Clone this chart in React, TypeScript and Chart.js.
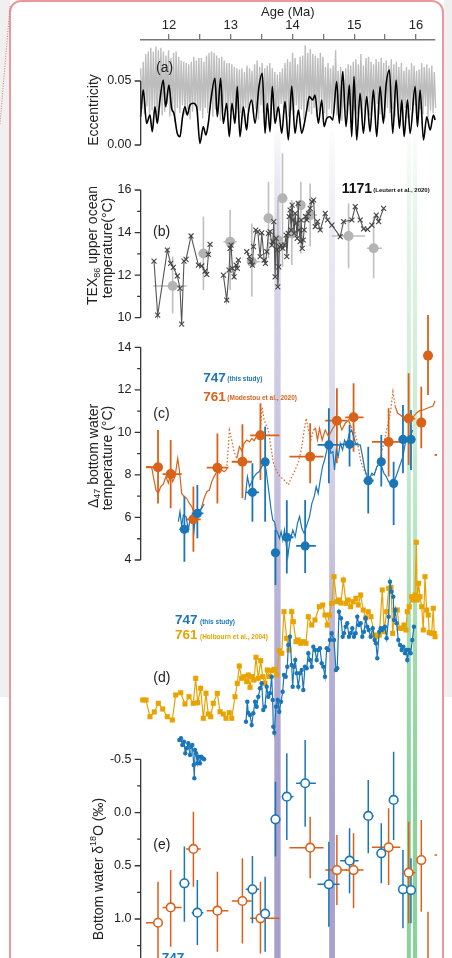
import React, { useEffect, useRef } from "react";
import { Chart, registerables } from "chart.js";
Chart.register(...registerables);

const FONT = 'Helvetica, Arial, "Liberation Sans", sans-serif';
Chart.defaults.font.family = FONT;
Chart.defaults.color = "#222";

const BLUE = "#1b76b8";
const ORANGE = "#d9621b";
const YELLOW = "#e8a300";

// ---------- x axis ----------
const X_MIN = 11.541;
const X_MAX = 16.308;
const X_TICKS = [12, 12.5, 13, 13.5, 14, 14.5, 15, 15.5, 16];

// ---------- (a) eccentricity ----------
const OBL_START = 11.541;
const OBL_STEP = 0.0205;
const OBL_PEAKS = [
  0.06, 0.065, 0.071, 0.073, 0.076, 0.073, 0.077, 0.074, 0.076, 0.073,
  0.07, 0.074, 0.068, 0.072, 0.073, 0.069, 0.066, 0.065, 0.064, 0.063,
  0.065, 0.069, 0.066, 0.068, 0.068, 0.065, 0.07, 0.072, 0.073, 0.072,
  0.07, 0.068, 0.069, 0.066, 0.064, 0.064, 0.063, 0.061, 0.06, 0.059,
  0.06, 0.057, 0.062, 0.06, 0.058, 0.063, 0.066, 0.061, 0.064, 0.06,
  0.062, 0.064, 0.06, 0.057, 0.055, 0.057, 0.06, 0.064, 0.067, 0.065,
  0.072, 0.068, 0.063, 0.069, 0.07, 0.078, 0.072, 0.075, 0.071, 0.07,
  0.068, 0.072, 0.069, 0.061, 0.064, 0.06, 0.062, 0.074, 0.058, 0.061,
  0.058, 0.06, 0.063, 0.062, 0.065, 0.067, 0.063, 0.071, 0.062, 0.068,
  0.069, 0.065, 0.063, 0.067, 0.065, 0.068, 0.064, 0.066, 0.062, 0.067,
  0.063, 0.065, 0.061, 0.064, 0.058, 0.061, 0.059, 0.064, 0.062, 0.058,
  0.059, 0.064, 0.061, 0.063, 0.06, 0.062, 0.057,
];
const OBL_TROUGHS = [
  0.028, 0.024, 0.03, 0.021, 0.027, 0.025, 0.019, 0.029, 0.023, 0.026,
  0.032, 0.022, 0.027, 0.018, 0.029, 0.025, 0.031, 0.024, 0.028, 0.02,
  0.026, 0.03, 0.023, 0.027, 0.021, 0.029, 0.025, 0.032, 0.022, 0.028,
  0.024, 0.019, 0.027, 0.031, 0.023, 0.026, 0.03, 0.021, 0.028, 0.025,
  0.022, 0.029, 0.026, 0.033, 0.024, 0.028, 0.02, 0.031, 0.025, 0.027,
  0.03, 0.023, 0.028, 0.021, 0.026, 0.032, 0.024, 0.029, 0.022, 0.027,
  0.025, 0.031, 0.023, 0.028, 0.02, 0.03, 0.026, 0.024, 0.029, 0.022,
  0.027, 0.033, 0.025, 0.021, 0.028, 0.024, 0.03, 0.023, 0.026, 0.019,
  0.028, 0.025, 0.031, 0.022, 0.027, 0.024, 0.029, 0.021, 0.026, 0.03,
  0.023, 0.028, 0.025, 0.032, 0.024, 0.027, 0.021, 0.029, 0.025, 0.028,
  0.022, 0.03, 0.026, 0.024, 0.029, 0.021, 0.027, 0.025, 0.031, 0.023,
  0.028, 0.024, 0.03, 0.022, 0.027, 0.025, 0.029,
];
const ECC_AGE = [
  11.54, 11.583, 11.637, 11.691, 11.729, 11.772, 11.81, 11.853, 11.907, 11.945,
  11.999, 12.042, 12.08, 12.134, 12.177, 12.22, 12.258, 12.296, 12.339, 12.393,
  12.447, 12.501, 12.555, 12.598, 12.636, 12.679, 12.744, 12.782, 12.836, 12.879,
  12.933, 12.976, 13.02, 13.068, 13.106, 13.149, 13.203, 13.257, 13.284, 13.338,
  13.393, 13.457, 13.511, 13.555, 13.592, 13.636, 13.673, 13.717, 13.771, 13.825,
  13.879, 13.933, 13.987, 14.041, 14.095, 14.149, 14.187, 14.23, 14.273, 14.327,
  14.365, 14.419, 14.473, 14.511, 14.554, 14.608, 14.651, 14.716, 14.759, 14.813,
  14.867, 14.921, 14.959, 14.997, 15.04, 15.094, 15.148, 15.202, 15.256, 15.31,
  15.364, 15.418, 15.472, 15.516, 15.57, 15.624, 15.678, 15.732, 15.77, 15.808,
  15.862, 15.905, 15.986, 16.024, 16.067, 16.121, 16.175, 16.229, 16.283, 16.31,
];
const ECC_VAL = [
  0.0221, 0.043, 0.0169, 0.0234, 0.0104, 0.0299, 0.0169, 0.0352, 0.0508, 0.0299,
  0.0469, 0.0286, 0.0247, 0.0091, 0.0065, 0.0221, 0.0299, 0.0234, 0.0313, 0.0326,
  0.0299, 0.0013, 0.0143, 0.0078, 0.0169, 0.0352, 0.0521, 0.0221, 0.0521, 0.0169,
  0.0326, 0.0065, 0.0326, 0.0169, 0.0456, 0.0065, 0.0299, 0.0117, 0.0247, 0.0352,
  0.0169, 0.0456, 0.056, 0.0091, 0.0326, 0.0104, 0.0456, 0.0169, 0.0299, 0.0091,
  0.0339, 0.0039, 0.0461, 0.0091, 0.0273, 0.0091, 0.0156, 0.0273, 0.0378, 0.0352,
  0.0391, 0.0169, 0.0352, 0.0143, 0.0208, 0.0221, 0.0195, 0.0495, 0.0169, 0.0573,
  0.0143, 0.0469, 0.0065, 0.0534, 0.0039, 0.0404, 0.0091, 0.0378, 0.0104, 0.043,
  0.0065, 0.0456, 0.0169, 0.0469, 0.0586, 0.0091, 0.0508, 0.013, 0.0352, 0.0065,
  0.0352, 0.0091, 0.0456, 0.0143, 0.043, 0.0039, 0.0221, 0.0117, 0.0234, 0.0195,
];

// ---------- (b) TEX86 ----------
const TEX_AGE = [
  11.757, 11.816, 11.973, 12.027, 12.07, 12.135, 12.178, 12.205, 12.243, 12.276,
  12.357, 12.476, 12.53, 12.584, 12.611, 12.638, 12.665, 12.77, 12.881, 12.935,
  12.973, 12.989, 13.005, 13.027, 13.054, 13.086, 13.108, 13.124, 13.19, 13.259,
  13.303, 13.324, 13.351, 13.368, 13.405, 13.438, 13.476, 13.503, 13.541, 13.562,
  13.584, 13.611, 13.638, 13.665, 13.681, 13.697, 13.719, 13.735, 13.751, 13.762,
  13.778, 13.789, 13.816, 13.843, 13.87, 13.897, 13.908, 13.93, 13.946, 13.962,
  13.978, 13.995, 14.011, 14.027, 14.043, 14.059, 14.076, 14.092, 14.108, 14.124,
  14.141, 14.157, 14.173, 14.189, 14.211, 14.232, 14.259, 14.286, 14.314, 14.341,
  14.368, 14.405, 14.449, 14.53, 14.568, 14.638, 14.773, 14.827, 14.962, 15.016,
  15.097, 15.151, 15.216, 15.286, 15.357, 15.395, 15.476,
];
const TEX_T = [
  12.66, 10.12, 13.18, 12.55, 12.36, 11.96, 11.38, 9.7, 12.66, 12.74,
  13.84, 12.47, 12.43, 12.19, 12.03, 12.97, 13.45, null, 12.0, 10.83,
  12.24, 13.26, 13.41, 12.32, 11.92, 12.47, 12.32, 12.71, null, 13.1,
  12.87, 12.63, 12.47, 13.34, 14.12, 14.04, 12.87, 13.99, 12.71, 12.55,
  13.1, 13.96, 14.04, 13.41, 13.57, 14.51, 11.92, 13.73, 13.18, 11.45,
  12.39, 13.34, 13.41, 13.26, 13.41, 13.88, 12.87, 13.96, 14.75, 15.06,
  14.12, 15.29, 14.59, 13.96, 14.9, 14.43, 13.73, 15.37, 14.12, 13.57,
  14.59, 13.26, 13.65, 14.12, 14.75, 14.59, 14.9, 15.14, 15.45, 15.53,
  14.28, 14.51, 14.12, 14.9, 14.59, 14.35, 13.81, 14.51, 14.59, 15.22,
  14.59, 14.17, 14.15, 14.35, 14.82, 14.51, 15.14,
];
const TEXG_AGE = [12.059, 12.557, 12.989, 13.341, 13.611, 13.762, 13.838, 13.989, 14.135, 14.286, 14.908, 15.314];
const TEXG_AGE_LO = [11.746, 12.476, 12.881, 13.259, 13.611, 13.762, 13.838, 13.989, 14.135, 14.178, 14.638, 15.205];
const TEXG_AGE_HI = [12.286, 12.665, 13.097, 13.476, 13.611, 13.762, 13.838, 13.989, 14.135, 14.395, 15.178, 15.449];
const TEXG_T = [11.49, 13.02, 13.57, 12.63, 14.67, 13.65, 15.61, 13.96, 15.29, 14.82, 13.84, 13.26];
const TEXG_T_LO = [10.2, 11.3, 11.3, 10.98, 12.79, 11.61, 12.39, 12.47, 13.02, 13.34, 12.32, 11.85];
const TEXG_T_HI = [12.87, 14.75, 15.06, 14.43, 16.39, 15.53, 17.72, 15.53, 16.39, 16.31, 15.37, 14.75];

// ---------- (c) & (e) clumped isotope samples ----------
const S747_AGE = [12.249, 12.459, 13.351, 13.557, 13.724, 13.908, 14.205, 14.589, 14.924, 15.227, 15.438, 15.638, 15.789, 15.919];
const S747_AGE_LO = [12.168, 12.368, 13.243, 13.557, 13.665, 13.827, 14.059, 14.405, 14.773, 15.151, 15.395, 15.584, 15.719, 15.854];
const S747_AGE_HI = [12.33, 12.557, 13.459, 13.557, 13.8, 14.016, 14.378, 14.762, 15.07, 15.314, 15.486, 15.692, 15.881, 15.989];
const C747_T = [5.44, 6.19, 7.18, 8.61, 4.34, 5.07, 4.66, 9.41, 9.44, 7.73, 8.62, 7.6, 9.67, 9.67];
const C747_T_LO = [3.92, 5.02, 5.8, 5.8, 2.82, 3.37, 3.39, 7.61, 8.39, 6.19, 7.45, 5.65, 8.08, 8.23];
const C747_T_HI = [7.02, 7.53, 8.55, 10.27, 5.41, 6.81, 6.82, 11.13, 10.35, 9.33, 9.88, 8.62, 11.29, 11.05];
const E747 = [0.665, 0.941, 0.721, 0.95, 0.064, -0.149, -0.275, 0.674, 0.452, 0.032, 0.383, -0.118, 0.721, 0.728];
const E747_LO = [0.32, 0.634, 0.408, 0.602, -0.29, -0.556, -0.682, 0.274, 0.148, -0.306, 0.101, -0.572, 0.352, 0.43];
const E747_HI = [1.025, 1.244, 1.041, 1.307, 0.414, 0.258, 0.133, 1.072, 0.759, 0.383, 0.665, 0.258, 1.088, 1.041];

const S761_AGE = [11.822, 12.027, 12.395, 12.784, 13.189, 13.481, 14.286, 14.719, 14.989, 15.557, 15.881, 16.086, 16.195];
const S761_AGE_LO = [11.627, 11.897, 12.276, 12.611, 13.016, 13.314, 13.951, 14.53, 14.854, 15.286, 15.827, 16.086, 16.195];
const S761_AGE_HI = [11.881, 12.205, 12.514, 12.962, 13.341, 13.789, 14.503, 14.881, 15.151, 15.746, 15.989, 16.086, 16.195];
const C761_T = [8.36, 8.04, 5.91, 8.34, 8.62, 9.86, 8.86, 10.55, 10.71, 9.55, 10.65, 10.46, 13.61];
const C761_T_LO = [6.66, 6.43, 4.39, 6.66, 6.9, 7.76, 7.61, 8.55, 9.09, 7.92, 8.47, 9.25, 11.76];
const C761_T_HI = [10.11, 9.64, 7.45, 9.95, 10.38, 11.37, 10.43, 12.07, 12.31, 11.13, 12.78, 12.15, 15.52];
const E761 = [1.035, 0.891, 0.342, 0.922, 0.831, 0.994, 0.33, 0.54, 0.54, 0.327, 0.565, 0.446, 1.338];
const E761_LO = [0.649, 0.54, -0.008, 0.555, 0.43, 0.649, 0.039, 0.211, 0.195, -0.04, 0.086, 0.07, 0.931];
const E761_HI = [1.37, 1.26, 0.696, 1.307, 1.229, 1.323, 0.618, 0.869, 0.9, 0.681, 1.041, 0.931, 1.5];
// sample just beyond the right edge (only its age bar shows)
const S761_OFF_AGE = [16.42];
const S761_OFF_LO = [16.3];
const S761_OFF_HI = [16.55];
const C761_OFF_T = [8.94];
const E761_OFF = [0.399];

// ---------- (c) bottom water temperature records (lines) ----------
const C761_LINE_AGE = [
  11.638, 11.719, 11.757, 11.789, 11.827, 11.865, 11.908, 11.951, 11.989, 12.027,
  12.059, 12.097, 12.141, 12.168, 12.205, 12.243, 12.286, 12.33, 12.368, 12.405,
  12.449, 12.492, 12.53, 12.568, 12.611, 12.654, 12.692, 12.73, 12.773, 12.816,
  12.854, 12.892, 12.935, 12.978, 13.016, 13.054, 13.097, 13.141, 13.178, 13.216,
  13.259, 13.303, 13.341, 13.378, 13.422, 13.465, 13.508, 13.541, 13.573, 13.611,
  13.649, 13.692, 13.746, 13.8, 13.865, 13.935, 13.989, 14.043, 14.097, 14.151,
  14.189, 14.222, 14.259, 14.297, 14.341, 14.373, 14.405, 14.438, 14.481, 14.53,
  14.584, 14.638, 14.692, 14.746, 14.8, 14.854, 14.908, 14.946, 15.0, 15.054,
  15.108, 15.178, 15.249, 15.324, 15.395, 15.465, 15.53, 15.584, 15.627, 15.665,
  15.703, 15.746, 15.789, 15.843, 15.897, 15.951, 16.005, 16.059, 16.114, 16.168,
  16.222, 16.276, 16.308,
];
const C761_LINE_T = [
  8.39, 8.36, 7.76, 7.29, 7.13, 7.45, 7.57, 7.92, 7.61, 8.08,
  7.68, 7.92, 8.78, 8.23, 7.13, 6.98, 6.9, 6.66, 6.51, 6.23,
  5.96, 6.12, 6.51, 6.9, 7.21, 7.29, 7.68, 7.92, 8.15, 8.08,
  8.23, 8.15, 8.26, 10.11, 9.64, 9.09, 8.78, 9.33, 9.14, 9.49,
  9.64, 9.56, 9.72, 9.61, 9.83, 9.72, 11.18, 10.58, 10.35, 10.11,
  9.33, 8.55, 8.15, 7.92, 7.76, 7.53, 7.92, 8.23, 8.62, 9.33,
  10.11, 10.66, 10.11, 9.64, 10.11, 10.19, 9.64, 10.19, 9.64, 10.11,
  9.8, 10.11, 10.35, 10.58, 10.11, 10.43, 10.58, 10.27, 10.11, 9.49,
  8.62, 8.08, 7.84, 8.08, 8.55, 9.33, 10.19, 10.9, 11.92, 11.21,
  10.9, 10.82, 10.71, 10.61, 10.82, 10.71, 10.9, 11.02, 11.05, 11.12,
  11.18, 11.24, 11.49,
];
const C761_DOTTED_SPANS = [
  [12.935, 13.097],
  [13.465, 14.341],
  [14.946, 15.665],
];
const C747_LINE_AGE = [
  12.151, 12.178, 12.205, 12.232, 12.276, 12.314, 12.341, 12.378, 12.405, 12.432,
  12.465, 12.492, 12.53, 12.568, 12.9,
  13.232, 13.27, 13.303, 13.341, 13.378, 13.422, 13.459, 13.503, 13.541, 13.573,
  13.6, 13.627, 13.654, 13.681, 13.708, 13.735, 13.762, 13.789, 13.816, 13.843,
  13.87, 13.897, 13.924, 13.951, 13.978, 14.005, 14.043, 14.081, 14.114, 14.151,
  14.189, 14.232, 14.276, 14.314, 14.351, 14.384, 14.416, 14.449, 14.486, 14.519,
  14.557, 14.589, 14.622, 14.654, 14.681, 14.708, 14.741, 14.773, 14.811, 14.843,
  14.881, 14.919, 14.957, 14.989, 15.022, 15.059, 15.097, 15.135, 15.173, 15.211,
  15.249, 15.286, 15.324, 15.368, 15.405, 15.443, 15.481, 15.519, 15.557, 15.595,
  15.638, 15.676, 15.714, 15.751, 15.789, 15.827, 15.865, 15.908, 15.946,
];
const C747_LINE_T = [
  5.8, 6.27, 5.57, 6.12, 6.04, 5.41, 5.96, 6.12, 5.41, 6.27,
  6.04, 6.35, 6.43, 6.63, null,
  6.82, 7.92, 7.45, 7.68, 7.92, 8.08, 8.15, 8.39, 8.55, 8.23,
  7.61, 6.98, 6.35, 5.88, 5.8, 5.41, 5.25, 5.02, 5.33, 4.94,
  5.41, 4.78, 4.16, 4.78, 5.1, 5.41, 5.1, 5.72, 6.04, 5.49,
  5.25, 5.65, 6.04, 6.66, 6.98, 7.45, 7.13, 7.76, 8.39, 8.7,
  9.17, 9.49, 9.02, 9.09, 8.23, 9.17, 8.86, 9.49, 9.17, 9.64,
  9.41, 9.96, 10.11, 9.8, 9.49, 9.41, 9.41, 8.86, 8.23, 7.92,
  7.84, 8.08, 8.0, 8.39, 8.55, 8.39, 8.08, 7.92, 7.68, 7.61,
  7.68, 7.92, 8.23, 8.55, 8.86, 9.49, 9.64, 9.8, 10.11,
];

// ---------- (d) benthic d18O ----------
const D761_AGE = [
  11.574, 11.627, 11.692, 11.762, 11.827, 11.898, 11.972, 12.053, 12.108, 12.189,
  12.259, 12.324, 12.393, 12.432, 12.465, 12.513, 12.555, 12.599, 12.636, 12.675,
  12.717, 12.782, 12.826, 12.879, 12.923, 12.976, 13.015, 13.069, 13.106, 13.138,
  13.177, 13.214, 13.258, 13.284, 13.312, 13.339, 13.376, 13.409, 13.446, 13.485,
  13.517, 13.554, 13.592, 13.624, 13.663, 13.7, 13.744, 13.786, 13.825, 13.862,
  13.906, 13.943, 13.987, 14.013, 14.057, 14.094, 14.133, 14.175, 14.218, 14.256,
  14.311, 14.364, 14.434, 14.489, 14.526, 14.563, 14.596, 14.635, 14.672, 14.716,
  14.753, 14.785, 14.823, 14.866, 14.903, 14.942, 14.984, 15.028, 15.065, 15.104,
  15.146, 15.185, 15.227, 15.271, 15.325, 15.363, 15.406, 15.454, 15.486, 15.525,
  15.558, 15.595, 15.623, 15.66, 15.697, 15.729, 15.768, 15.806, 15.838, 15.859,
  15.891, 15.93, 15.956, 15.984, 16.005, 16.021, 16.044, 16.065, 16.092, 16.118,
  16.146, 16.173, 16.199, 16.215, 16.254, 16.28, 16.296, 16.308,
];
const D761_D18O = [
  2.4, 2.4, 2.567, 2.52, 2.433, 2.49, 2.567, 2.6, 2.35, 2.327,
  2.44, 2.367, 2.433, 2.183, 2.427, 2.283, 2.583, 2.333, 2.54, 2.567,
  2.433, 2.333, 2.517, 2.54, 2.583, 2.527, 2.583, 2.367, 2.233, 2.06,
  2.183, 2.167, 2.217, 2.15, 2.273, 2.167, 2.2, 1.973, 2.183, 2.007,
  2.167, 2.233, 2.1, 2.167, 2.107, 2.093, 2.15, 1.907, 1.933, 1.517,
  1.783, 1.9, 1.517, 1.617, 1.817, 1.8, 1.833, 1.817, 1.833, 1.567,
  1.65, 1.6, 1.467, 1.45, 1.55, 1.65, 1.55, 1.433, 1.167, 1.417,
  1.4, 1.43, 1.2, 1.433, 1.4, 1.467, 1.417, 1.383, 1.45, 1.35,
  1.5, 1.58, 1.517, 1.567, 1.75, 1.767, 1.75, 1.3, 1.717, 1.517,
  1.283, 1.273, 1.733, 1.5, 1.5, 1.683, 1.683, 1.65, 1.7, 1.517,
  1.467, 1.367, 1.4, 1.35, 0.823, 1.4, 1.233, 1.367, 1.467, 1.7,
  1.167, 1.5, 1.55, 1.727, 1.733, 1.483, 1.733, 1.767,
];
const D747_AGE = [
  12.167, 12.194, 12.215, 12.243, 12.264, 12.286, 12.312, 12.34, 12.356, 12.377,
  12.4, 12.41, 12.421, 12.437, 12.458, 12.474, 12.502, 12.523, 12.546, 12.567,
  12.9,
  13.247, 13.268, 13.284, 13.312, 13.339, 13.365, 13.393, 13.42, 13.446, 13.474,
  13.501, 13.527, 13.554, 13.582, 13.608, 13.635, 13.663, 13.679, 13.689, 13.705,
  13.733, 13.76, 13.786, 13.814, 13.841, 13.862, 13.89, 13.916, 13.932, 13.959,
  13.987, 14.003, 14.024, 14.045, 14.068, 14.094, 14.121, 14.149, 14.175, 14.202,
  14.23, 14.256, 14.283, 14.311, 14.337, 14.364, 14.392, 14.418, 14.445, 14.473,
  14.499, 14.526, 14.554, 14.58, 14.607, 14.635, 14.672, 14.704, 14.725, 14.753,
  14.785, 14.813, 14.834, 14.861, 14.887, 14.915, 14.942, 14.968, 14.996, 15.023,
  15.049, 15.077, 15.104, 15.13, 15.158, 15.185, 15.211, 15.234, 15.266, 15.299,
  15.331, 15.352, 15.373, 15.406, 15.428, 15.449, 15.47, 15.498, 15.525, 15.558,
  15.579, 15.606, 15.632, 15.644, 15.665, 15.687, 15.713, 15.741, 15.768, 15.794,
  15.822, 15.843, 15.859, 15.886, 15.914, 15.94, 15.967,
];
const D747_D18O = [
  2.8, 2.783, 2.85, 2.817, 2.933, 2.883, 2.833, 2.95, 2.867, 2.85,
  3.05, 3.183, 2.9, 2.933, 3.033, 2.967, 3.033, 2.967, 2.983, 2.993,
  null,
  2.617, 2.417, 2.53, 2.55, 2.65, 2.533, 2.417, 2.467, 2.367, 2.283,
  2.233, 2.5, 2.467, 2.267, 2.367, 2.333, 2.167, 2.4, 2.667, 2.727,
  2.467, 2.4, 2.517, 2.417, 2.317, 2.15, 2.167, 2.067, 1.85, 1.767,
  2.05, 2.267, 2.067, 2.0, 2.133, 2.267, 2.133, 2.1, 2.3, 2.067,
  2.083, 1.933, 2.0, 2.067, 1.867, 1.9, 2.0, 1.9, 1.883, 2.033,
  2.067, 2.167, 1.883, 1.9, 1.8, 1.733, 1.8, 2.1, 2.083, 1.517,
  1.583, 1.767, 1.733, 1.667, 1.633, 1.767, 1.733, 1.683, 1.767, 1.733,
  1.567, 1.65, 1.633, 1.767, 1.717, 1.583, 1.667, 1.7, 1.767, 1.683,
  1.8, 1.833, 1.983, 1.717, 1.683, 1.7, 1.683, 1.667, 1.783, 1.567,
  1.217, 1.317, 1.367, 1.6, 1.5, 1.633, 1.8, 1.85, 1.9, 1.867,
  1.933, 1.9, 2.0, 1.9, 1.933, 1.8, 1.667,
];

// ---------- event bands ----------
const PURPLE_BANDS = [
  [13.705, 13.808],
  [14.593, 14.688],
];
const GREEN_BANDS = [
  [15.852, 15.917],
  [15.95, 16.018],
];

// ---------- layout of stacked panels (pixel anchors) ----------
const TOP = 40;
const BOTTOM = 948;
function rangeFor(v0: number, y0: number, k: number, reverse: boolean) {
  if (!reverse) return { min: v0 - (BOTTOM - y0) / k, max: v0 + (y0 - TOP) / k, reverse: false };
  return { min: v0 - (y0 - TOP) / k, max: v0 + (BOTTOM - y0) / k, reverse: true };
}
const RA = rangeFor(0, 145, 1280, false);
const RB = rangeFor(16, 190, 21.28, false);
const RC = rangeFor(14, 347.3, 21.27, false);
const RD = rangeFor(1, 560, 100, true);
const RE = rangeFor(-0.5, 759.3, 106.47, true);
const LABEL_X = 11.392;

const pts = (xs: number[], ys: (number | null)[]) => xs.map((x, i) => ({ x, y: ys[i] === undefined ? null : ys[i] }));

function eccGrayData() {
  const out: any[] = [];
  for (let i = 0; i < OBL_PEAKS.length; i++) {
    out.push({ x: OBL_START + 2 * i * OBL_STEP, y: OBL_PEAKS[i] });
    if (i < OBL_TROUGHS.length) out.push({ x: OBL_START + (2 * i + 1) * OBL_STEP, y: OBL_TROUGHS[i] });
  }
  return out;
}

const ERROR_GROUPS = [
  { axis: "yb", color: "#bfbfbf", width: 1.6, x: TEXG_AGE, xlo: TEXG_AGE_LO, xhi: TEXG_AGE_HI, y: TEXG_T, ylo: TEXG_T_LO, yhi: TEXG_T_HI },
  { axis: "yc", color: ORANGE, width: 1.8, x: S761_AGE, xlo: S761_AGE_LO, xhi: S761_AGE_HI, y: C761_T, ylo: C761_T_LO, yhi: C761_T_HI },
  { axis: "yc", color: ORANGE, width: 1.8, x: S761_OFF_AGE, xlo: S761_OFF_LO, xhi: S761_OFF_HI, y: C761_OFF_T, ylo: C761_OFF_T, yhi: C761_OFF_T },
  { axis: "yc", color: BLUE, width: 1.8, x: S747_AGE, xlo: S747_AGE_LO, xhi: S747_AGE_HI, y: C747_T, ylo: C747_T_LO, yhi: C747_T_HI },
  { axis: "ye", color: ORANGE, width: 1.5, x: S761_AGE, xlo: S761_AGE_LO, xhi: S761_AGE_HI, y: E761, ylo: E761_LO, yhi: E761_HI },
  { axis: "ye", color: ORANGE, width: 1.5, x: S761_OFF_AGE, xlo: S761_OFF_LO, xhi: S761_OFF_HI, y: E761_OFF, ylo: E761_OFF, yhi: E761_OFF },
  { axis: "ye", color: BLUE, width: 1.5, x: S747_AGE, xlo: S747_AGE_LO, xhi: S747_AGE_HI, y: E747, ylo: E747_LO, yhi: E747_HI },
];

const AXES = [
  { id: "ya", from: 0.05, to: 0, major: [0, 0.05], minor: [] as number[] },
  { id: "yb", from: 16, to: 10, major: [10, 12, 14, 16], minor: [11, 13, 15] },
  { id: "yc", from: 14, to: 4, major: [4, 6, 8, 10, 12, 14], minor: [5, 7, 9, 11, 13] },
  { id: "ye", from: -0.5, to: 1.6, major: [-0.5, 0, 0.5, 1], minor: [-0.25, 0.25, 0.75, 1.25] },
];

const bandsPlugin = {
  id: "bands",
  beforeDatasetsDraw(chart: any) {
    const { ctx, scales } = chart;
    const xs = scales.x;
    const H = chart.height;
    const y0 = 120;
    const grad = (rgb: string, stops: number[][]) => {
      const g = ctx.createLinearGradient(0, y0, 0, H);
      stops.forEach(([y, a]) => g.addColorStop(Math.min(1, Math.max(0, (y - y0) / (H - y0))), `rgba(${rgb},${a})`));
      return g;
    };
    const p1 = grad("160,152,200", [[125, 0], [145, 0.1], [230, 0.37], [450, 0.58], [650, 0.8], [800, 0.92], [958, 0.92]]);
    const p2 = grad("160,152,200", [[125, 0], [145, 0.05], [230, 0.2], [450, 0.42], [650, 0.75], [800, 0.9], [958, 0.9]]);
    const gr = grad("110,200,130", [[125, 0], [145, 0.05], [230, 0.2], [450, 0.38], [650, 0.65], [800, 0.8], [958, 0.82]]);
    ctx.save();
    PURPLE_BANDS.forEach(([a, b], i) => {
      const xa = xs.getPixelForValue(a);
      const xb = xs.getPixelForValue(b);
      ctx.fillStyle = i === 0 ? p1 : p2;
      ctx.fillRect(xa, y0, xb - xa, H - y0);
    });
    GREEN_BANDS.forEach(([a, b]) => {
      const xa = xs.getPixelForValue(a);
      const xb = xs.getPixelForValue(b);
      ctx.fillStyle = gr;
      ctx.fillRect(xa, y0, xb - xa, H - y0);
    });
    ctx.restore();
  },
};

const errorBarsPlugin = {
  id: "errorBars",
  beforeDatasetsDraw(chart: any) {
    const { ctx, scales } = chart;
    const xs = scales.x;
    ctx.save();
    ctx.beginPath();
    ctx.rect(0, 0, xs.right + 2, chart.height);
    ctx.clip();
    ERROR_GROUPS.forEach((g) => {
      const ys = scales[g.axis];
      ctx.strokeStyle = g.color;
      ctx.lineWidth = g.width;
      g.x.forEach((age: number, i: number) => {
        const px = xs.getPixelForValue(age);
        const py = ys.getPixelForValue(g.y[i]);
        ctx.beginPath();
        ctx.moveTo(px, ys.getPixelForValue(g.ylo[i]));
        ctx.lineTo(px, ys.getPixelForValue(g.yhi[i]));
        ctx.moveTo(xs.getPixelForValue(g.xlo[i]), py);
        ctx.lineTo(xs.getPixelForValue(g.xhi[i]), py);
        ctx.stroke();
      });
    });
    ctx.restore();
  },
};

const axesPlugin = {
  id: "panelAxes",
  afterDatasetsDraw(chart: any) {
    const { ctx, scales, chartArea } = chart;
    const ax = chartArea.left;
    ctx.save();
    ctx.strokeStyle = "#333";
    ctx.lineWidth = 1.3;
    AXES.forEach((a) => {
      const s = scales[a.id];
      ctx.beginPath();
      ctx.moveTo(ax, s.getPixelForValue(a.from));
      ctx.lineTo(ax, s.getPixelForValue(a.to));
      a.major.forEach((v) => {
        const y = s.getPixelForValue(v);
        ctx.moveTo(ax - 6, y);
        ctx.lineTo(ax, y);
      });
      a.minor.forEach((v) => {
        const y = s.getPixelForValue(v);
        ctx.moveTo(ax - 3.5, y);
        ctx.lineTo(ax, y);
      });
      ctx.stroke();
    });
    ctx.restore();
  },
};

type Part = { t: string; font: string; color: string; dy?: number };
function drawRich(ctx: any, parts: Part[], x: number, y: number, rotate: boolean, center: boolean) {
  ctx.save();
  ctx.translate(x, y);
  if (rotate) ctx.rotate(-Math.PI / 2);
  ctx.textBaseline = rotate ? "middle" : "alphabetic";
  ctx.textAlign = "left";
  let total = 0;
  const widths = parts.map((p) => {
    ctx.font = p.font;
    const w = ctx.measureText(p.t).width;
    total += w;
    return w;
  });
  let cx = center ? -total / 2 : 0;
  parts.forEach((p, i) => {
    ctx.font = p.font;
    ctx.fillStyle = p.color;
    ctx.fillText(p.t, cx, p.dy || 0);
    cx += widths[i];
  });
  ctx.restore();
}

const f = (size: number, bold = false) => `${bold ? "bold " : ""}${size}px ${FONT}`;

const textPlugin = {
  id: "annotations",
  afterDatasetsDraw(chart: any) {
    const { ctx } = chart;
    const T = "#222";
    ctx.save();
    ctx.font = f(14);
    ctx.fillStyle = T;
    ctx.textBaseline = "middle";
    ctx.fillText("(a)", 156, 68.5);
    ctx.fillText("(b)", 153, 231.7);
    ctx.fillText("(c)", 153.3, 414);
    ctx.fillText("(d)", 153.3, 678);
    ctx.fillText("(e)", 153.3, 845.5);
    ctx.restore();
    const big = f(14);
    const sub = f(9);
    drawRich(ctx, [{ t: "Eccentricity", font: big, color: T }], 94.5, 110, true, true);
    drawRich(ctx, [
      { t: "TEX", font: big, color: T },
      { t: "86", font: sub, color: T, dy: 4 },
      { t: " upper ocean", font: big, color: T },
    ], 93.3, 245.5, true, true);
    drawRich(ctx, [{ t: "temperature(°C)", font: big, color: T }], 108.3, 248, true, true);
    drawRich(ctx, [
      { t: "Δ", font: big, color: T },
      { t: "47", font: sub, color: T, dy: 4 },
      { t: " bottom water", font: big, color: T },
    ], 93.7, 456, true, true);
    drawRich(ctx, [{ t: "temperature (°C)", font: big, color: T }], 108.3, 458, true, true);
    drawRich(ctx, [
      { t: "Bottom water δ", font: big, color: T },
      { t: "18", font: sub, color: T, dy: -5 },
      { t: "O (‰)", font: big, color: T },
    ], 99, 869, true, true);
    drawRich(ctx, [{ t: "1171", font: f(14, true), color: "#111" }], 341.7, 192.7, false, false);
    drawRich(ctx, [{ t: "(Leutert et al., 2020)", font: f(6, true), color: "#111" }], 373.3, 192, false, false);
    drawRich(ctx, [{ t: "747", font: f(13.5, true), color: BLUE }], 203.3, 381.7, false, false);
    drawRich(ctx, [{ t: "(this study)", font: f(6.5, true), color: BLUE }], 227.3, 381, false, false);
    drawRich(ctx, [{ t: "761", font: f(13.5, true), color: ORANGE }], 203.3, 400.7, false, false);
    drawRich(ctx, [{ t: "(Modestou et al., 2020)", font: f(6.5, true), color: ORANGE }], 227.3, 400, false, false);
    drawRich(ctx, [{ t: "747", font: f(13.5, true), color: BLUE }], 175, 624, false, false);
    drawRich(ctx, [{ t: "(this study)", font: f(6.5, true), color: BLUE }], 200, 623.5, false, false);
    drawRich(ctx, [{ t: "761", font: f(13.5, true), color: YELLOW }], 175, 639, false, false);
    drawRich(ctx, [{ t: "(Holbourn et al., 2004)", font: f(6.5, true), color: YELLOW }], 200, 638.5, false, false);
    drawRich(ctx, [{ t: "747", font: f(13.5, true), color: BLUE }], 161.7, 962, false, false);
  },
};

function yAxis(r: any, ticks: number[], fmt: (v: number) => string) {
  return {
    type: "linear",
    position: { x: LABEL_X },
    min: r.min,
    max: r.max,
    reverse: r.reverse,
    afterBuildTicks: (s: any) => {
      s.ticks = ticks.map((v) => ({ value: v }));
    },
    ticks: { callback: (v: any) => fmt(Number(v)), font: { size: 12.5 }, color: "#222", padding: 0, autoSkip: false },
    grid: { display: false, drawTicks: false },
    border: { display: false },
  };
}

function buildConfig(): any {
  const inSpan = (a: number, b: number) => C761_DOTTED_SPANS.some(([lo, hi]) => a >= lo - 1e-6 && b <= hi + 1e-6);
  const datasets: any[] = [
    { data: eccGrayData(), yAxisID: "ya", borderColor: "#bdbdbd", borderWidth: 1.4, pointRadius: 0, order: 30 },
    { data: pts(ECC_AGE, ECC_VAL), yAxisID: "ya", borderColor: "#000", borderWidth: 1.6, pointRadius: 0, cubicInterpolationMode: "monotone", order: 29 },
    { data: pts(TEXG_AGE, TEXG_T), yAxisID: "yb", showLine: false, pointRadius: 5, pointBackgroundColor: "#b4b4b4", pointBorderWidth: 0, order: 28 },
    { data: pts(TEX_AGE, TEX_T), yAxisID: "yb", borderColor: "#555", borderWidth: 1.1, pointStyle: "crossRot", pointRadius: 3.5, pointBorderColor: "#444", pointBorderWidth: 1.1, order: 27 },
    {
      data: pts(C761_LINE_AGE, C761_LINE_T), yAxisID: "yc", borderColor: ORANGE, borderWidth: 1.2, pointRadius: 0, order: 26,
      segment: { borderDash: (c: any) => (inSpan(c.p0.parsed.x, c.p1.parsed.x) ? [1.5, 2] : undefined) },
    },
    { data: pts(C747_LINE_AGE, C747_LINE_T), yAxisID: "yc", borderColor: BLUE, borderWidth: 1.2, pointRadius: 0, order: 25 },
    { data: pts(S761_AGE, C761_T), yAxisID: "yc", showLine: false, pointRadius: 5, pointBackgroundColor: ORANGE, pointBorderWidth: 0, order: 24 },
    { data: pts(S747_AGE, C747_T), yAxisID: "yc", showLine: false, pointRadius: 4.6, pointBackgroundColor: BLUE, pointBorderWidth: 0, order: 23 },
    { data: pts(D761_AGE, D761_D18O), yAxisID: "yd", borderColor: YELLOW, borderWidth: 1.2, pointStyle: "rect", pointRadius: 3.6, pointBackgroundColor: YELLOW, pointBorderWidth: 0, order: 22 },
    { data: pts(D747_AGE, D747_D18O), yAxisID: "yd", borderColor: BLUE, borderWidth: 1.2, pointRadius: 2.2, pointBackgroundColor: BLUE, pointBorderWidth: 0, order: 21 },
    { data: pts(S761_AGE, E761), yAxisID: "ye", showLine: false, pointRadius: 4.3, pointBackgroundColor: "#fff", pointBorderColor: ORANGE, pointBorderWidth: 1.6, order: 20 },
    { data: pts(S747_AGE, E747), yAxisID: "ye", showLine: false, pointRadius: 4.3, pointBackgroundColor: "#fff", pointBorderColor: BLUE, pointBorderWidth: 1.6, order: 19 },
  ];
  datasets.forEach((d) => {
    d.clip = false;
    d.fill = false;
  });

  return {
    type: "line",
    data: { datasets },
    options: {
      responsive: false,
      animation: false,
      events: [],
      layout: { padding: { left: 140.67, right: 17, top: 0, bottom: 10 } },
      plugins: { legend: { display: false }, tooltip: { enabled: false } },
      scales: {
        x: {
          type: "linear",
          position: "top",
          min: X_MIN,
          max: X_MAX,
          afterFit: (s: any) => {
            s.height = 40;
          },
          afterBuildTicks: (s: any) => {
            s.ticks = X_TICKS.map((v) => ({ value: v }));
          },
          ticks: {
            callback: (v: any) => (Number.isInteger(Number(v)) ? String(v) : ""),
            font: { size: 13 },
            color: "#222",
            padding: 1,
            autoSkip: false,
            maxRotation: 0,
            minRotation: 0,
          },
          grid: { drawOnChartArea: false, drawTicks: true, tickLength: 6, color: "#777", lineWidth: 1.3 },
          border: { display: true, color: "#777", width: 1.6 },
          title: { display: true, text: "Age (Ma)", font: { size: 13 }, color: "#222", padding: { top: 5, bottom: 0 } },
        },
        ya: yAxis(RA, [0, 0.05], (v) => v.toFixed(2)),
        yb: yAxis(RB, [10, 12, 14, 16], (v) => String(Math.round(v))),
        yc: yAxis(RC, [4, 6, 8, 10, 12, 14], (v) => String(Math.round(v))),
        yd: { type: "linear", display: false, min: RD.min, max: RD.max, reverse: true },
        ye: yAxis(RE, [-0.5, 0, 0.5, 1], (v) => v.toFixed(1)),
      },
    },
    plugins: [bandsPlugin, errorBarsPlugin, axesPlugin, textPlugin],
  };
}

export default function App() {
  const ref = useRef<HTMLCanvasElement | null>(null);
  useEffect(() => {
    if (!ref.current) return;
    const chart = new Chart(ref.current, buildConfig());
    return () => chart.destroy();
  }, []);
  return (
    <div style={{ position: "fixed", left: 0, top: 0, width: 452, height: 958, overflow: "hidden", background: "#fff" }}>
      <div style={{ position: "absolute", left: 0, top: 0, width: 10, height: 697, background: "#f0f0f0" }} />
      <div style={{ position: "absolute", left: 444, top: 0, width: 8, height: 697, background: "#f0f0f0" }} />
      <div
        style={{
          position: "absolute",
          left: 9,
          top: 0,
          width: 435,
          height: 1100,
          border: "2px solid #ec979e",
          borderRadius: 12,
          boxSizing: "border-box",
          background: "#fff",
        }}
      />
      <svg style={{ position: "absolute", left: 0, top: 0 }} width={20} height={130}>
        <line x1={10} y1={6} x2={0} y2={124} stroke="#e07080" strokeWidth={1} strokeDasharray="1 1.5" />
      </svg>
      <canvas ref={ref} width={452} height={958} style={{ position: "absolute", left: 0, top: 0, width: 452, height: 958 }} />
    </div>
  );
}
